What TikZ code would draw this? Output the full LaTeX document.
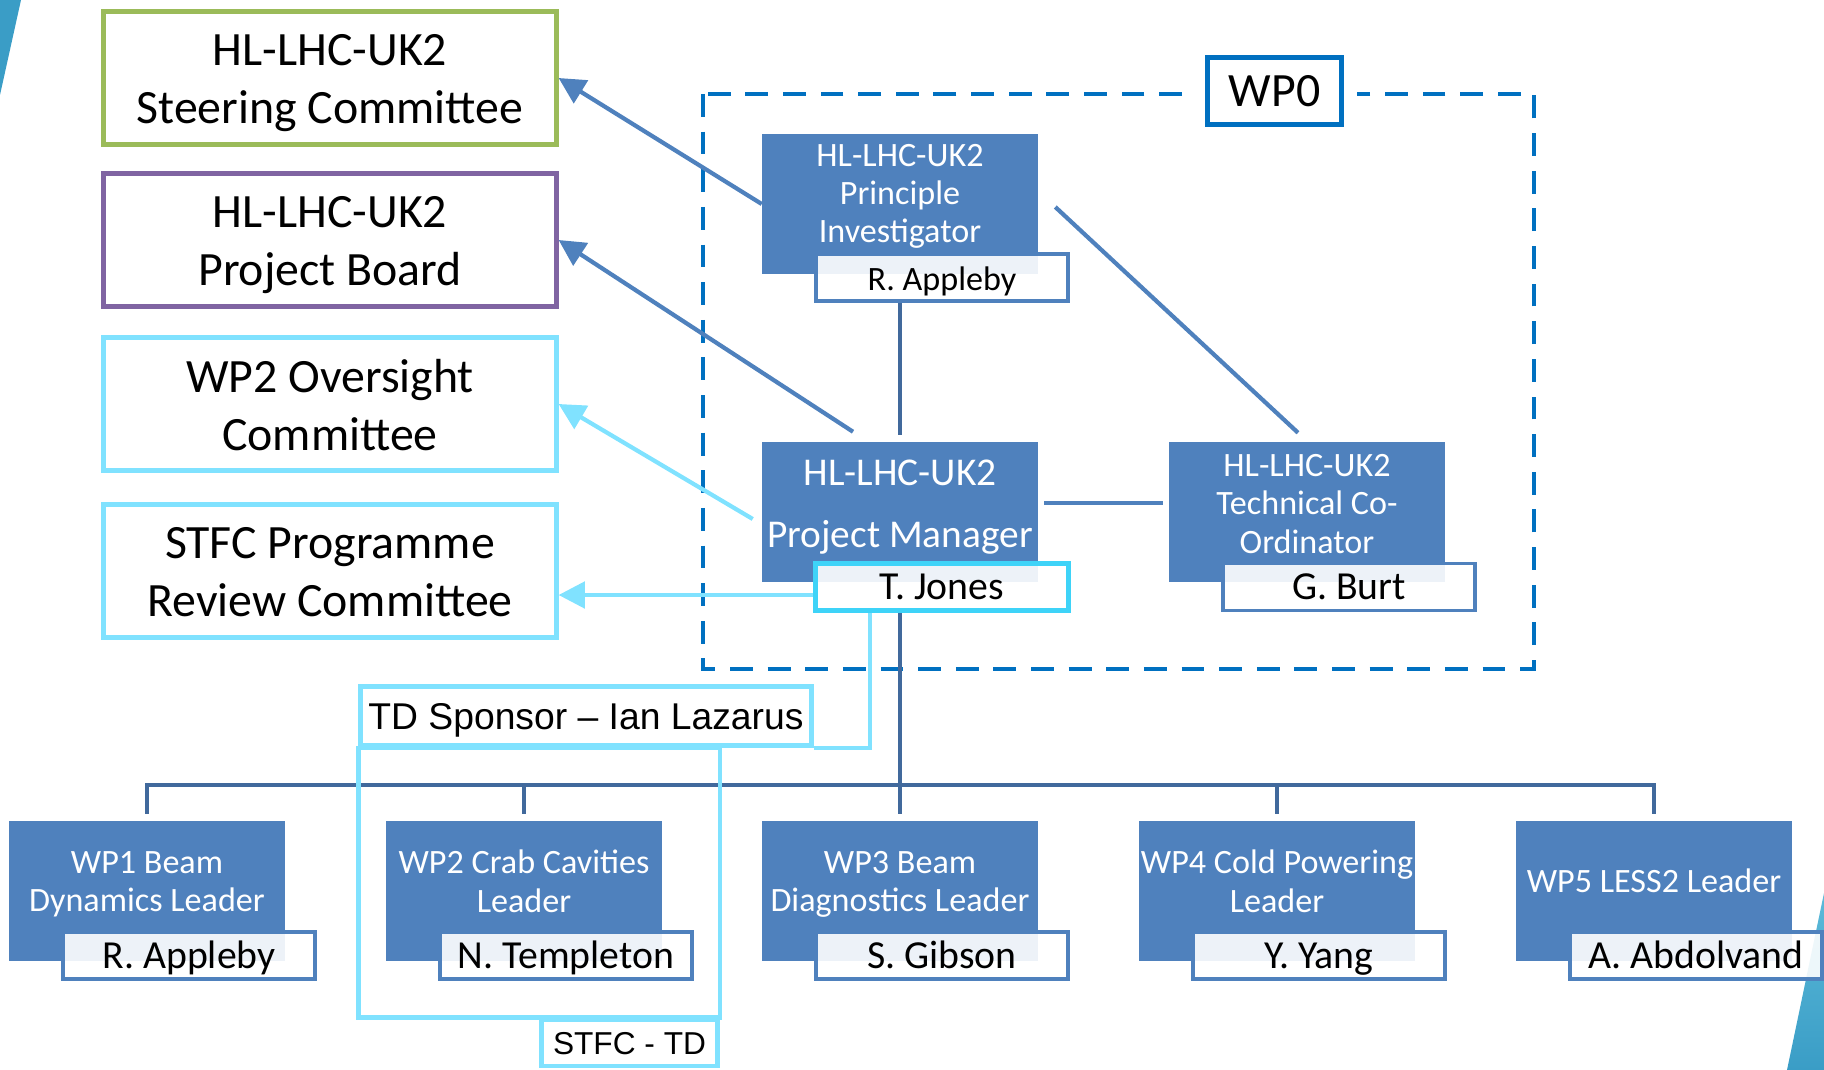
\documentclass[tikz,border=0pt]{standalone}
\usepackage{fontspec}
\setmainfont{Carlito}
\newfontfamily\arialfont{Liberation Sans}
\usetikzlibrary{arrows.meta}

\definecolor{roleblue}{HTML}{4F81BD}
\definecolor{treeblue}{HTML}{41699C}
\definecolor{steergreen}{HTML}{9BBB59}
\definecolor{boardpurple}{HTML}{8064A2}
\definecolor{tdcyan}{HTML}{80E2FF}
\definecolor{jonescyan}{HTML}{3ED3F8}
\definecolor{wpzeroblue}{HTML}{0070C0}
\definecolor{slidetop}{HTML}{5CBAD9}
\definecolor{slidebottom}{HTML}{3A9DC6}

\begin{document}
\begin{tikzpicture}[x=0.01cm,y=-0.01cm,
    vstrut/.style 2 args={execute at begin node={\rule{0pt}{#1}},execute at end node={\rule[-#2]{0pt}{#2}}},
    govbox/.style={draw=#1,line width=1.4pt,fill=white,minimum width=4.52cm,minimum height=1.33cm,inner sep=0pt},
    govtext/.style={align=center,inner sep=0pt,font=\fontsize{13.6}{16.5}\selectfont,vstrut={14.3pt}{3.5pt}},
    rolebox/.style={fill=roleblue,minimum width=2.75cm,minimum height=1.39cm,inner sep=0pt},
    roletext/.style={text=white,align=center,inner sep=0pt,font=\fontsize{9.7}{10.9}\selectfont,vstrut={8.75pt}{2.5pt}},
    namebox/.style={draw=roleblue,line width=1pt,fill=white,fill opacity=0.9,text opacity=1,minimum width=2.52cm,minimum height=0.47cm,inner sep=0pt,font=\fontsize{11.3}{13}\selectfont,vstrut={10.2pt}{2.9pt}},
    tdbox/.style={draw=tdcyan,line width=1.4pt,fill=white,inner sep=0pt,font=\arialfont\fontsize{#1}{12}\selectfont},
    govarrow/.style={draw=#1,line width=1.2pt,-{Triangle[length=7.5pt,width=7.5pt]}},
    roleline/.style={draw=roleblue,line width=1.2pt},
    treeline/.style={draw=treeblue,line width=1.1pt},
    tdline/.style={draw=tdcyan,line width=1.4pt}]
  \useasboundingbox (0,0) rectangle (1824,1070);

  % slide corners
  \fill[slidebottom] (0,0) -- (21,0) -- (0,95) -- cycle;
  \shade[top color=slidetop,bottom color=slidebottom] (1787,1070) -- (1824,893) -- (1824,1070) -- cycle;

  % WP0 frame
  \draw[wpzeroblue,line width=1.3pt,dash pattern=on 6.5pt off 4.2pt] (703,94) rectangle (1534,669);
  \node[draw=wpzeroblue,line width=1.4pt,fill=white,preaction={draw=white,line width=0.3cm},minimum width=1.34cm,minimum height=0.67cm,inner sep=0pt,font=\fontsize{13.6}{16.5}\selectfont] (wp0) at (1274.5,91) {WP0};

  % committees
  \node[govbox=steergreen] (steer) at (330,78) {};
  \node[govtext] (steert) at ([shift={(0,7)}]steer.center) {HL-LHC-UK2\\Steering Committee};
  \node[govbox=boardpurple] (board) at (330,240) {};
  \node[govtext] (boardt) at ([shift={(0,7)}]board.center) {HL-LHC-UK2\\Project Board};
  \node[govbox=tdcyan] (oversight) at (330,404) {};
  \node[govtext] (oversightt) at ([shift={(0,7)}]oversight.center) {WP2 Oversight\\Committee};
  \node[govbox=tdcyan] (prc) at (330,571) {};
  \node[govtext] (prct) at ([shift={(0,7)}]prc.center) {STFC Programme\\Review Committee};

  % WP0 roles
  \node[rolebox] (pi) at (900,204) {};
  \node[roletext] (pit) at ([shift={(0,-6.3)}]pi.center) {HL-LHC-UK2\\Principle\\Investigator};
  \node[namebox,font=\fontsize{9.7}{11}\selectfont,vstrut={8.75pt}{2.5pt}] (pia) at ([shift={(42,73.5)}]pi.center) {R. Appleby};

  \node[rolebox] (pm) at (900,512) {};
  \node[roletext,font=\fontsize{11.2}{13.7}\selectfont,vstrut={10.1pt}{2.9pt}] (pmt) at ([shift={(0,-3)}]pm.center) {HL-LHC-UK2\\[3.8pt]Project Manager};
  \node[namebox,draw=jonescyan,line width=1.4pt] (jones) at ([shift={(42,75)}]pm.center) {T. Jones};

  \node[rolebox] (tc) at (1307,512) {};
  \node[roletext] (tct) at ([shift={(0,-3.8)}]tc.center) {HL-LHC-UK2\\Technical Co-\\Ordinator};
  \node[namebox] (burt) at ([shift={(42,75)}]tc.center) {G. Burt};

  % work package leaders
  \node[rolebox] (wp1) at (147,891) {};
  \node[roletext] (wp1t) at ([shift={(0,-5.4)}]wp1.center) {WP1 Beam\\Dynamics Leader};
  \node[namebox] (wp1n) at ([shift={(42,64.5)}]wp1.center) {R. Appleby};

  \node[rolebox] (wp2) at (524,891) {};
  \node[roletext] (wp2t) at ([shift={(0,-5.4)}]wp2.center) {WP2 Crab Cavities\\Leader};
  \node[namebox] (wp2n) at ([shift={(42,64.5)}]wp2.center) {N. Templeton};

  \node[rolebox] (wp3) at (900,891) {};
  \node[roletext] (wp3t) at ([shift={(0,-5.4)}]wp3.center) {WP3 Beam\\Diagnostics Leader};
  \node[namebox] (wp3n) at ([shift={(42,64.5)}]wp3.center) {S. Gibson};

  \node[rolebox] (wp4) at (1277,891) {};
  \node[roletext] (wp4t) at ([shift={(0,-5.4)}]wp4.center) {WP4 Cold Powering\\Leader};
  \node[namebox] (wp4n) at ([shift={(42,64.5)}]wp4.center) {Y. Yang};

  \node[rolebox] (wp5) at (1654,891) {};
  \node[roletext] (wp5t) at ([shift={(0,-9)}]wp5.center) {WP5 LESS2 Leader};
  \node[namebox] (wp5n) at ([shift={(42,64.5)}]wp5.center) {A. Abdolvand};

  % reporting lines
  \draw[govarrow=roleblue] (pi.west) -- (steer.east);
  \draw[govarrow=roleblue] ([shift={(-47,-10)}]pm.north) -- (board.east);
  \draw[govarrow=tdcyan] ([shift={(-9,7)}]pm.west) -- (oversight.east);
  \draw[govarrow=tdcyan] ([yshift=-0.08cm]jones.west) -- ([yshift=-0.08cm]jones.west -| prc.east);
  \draw[roleline] ([shift={(17,3)}]pi.east) -- ([shift={(-9,-9)}]tc.north);
  \draw[roleline] ([shift={(6,-9)}]pm.east) -- ([shift={(-6,-9)}]tc.west);
  \draw[treeline] (pi.center |- pia.south) -- ([yshift=0.07cm]pm.north);

  % tree to work packages
  \coordinate (bus) at (900,785);
  \draw[treeline] (pm.center |- jones.south) -- ([yshift=0.07cm]wp3.north);
  \draw[treeline] ([yshift=0.07cm]wp1.north) |- (bus) -| ([yshift=0.07cm]wp5.north);
  \draw[treeline] (wp2.north |- bus) -- ([yshift=0.07cm]wp2.north);
  \draw[treeline] (wp4.north |- bus) -- ([yshift=0.07cm]wp4.north);

  % technology department
  \node[tdbox=10.6,vstrut={9.9pt}{2.3pt},minimum width=4.5cm,minimum height=0.59cm] (td) at (586,716) {TD Sponsor – Ian Lazarus};
  \node[tdbox=9,vstrut={6.9pt}{0.5pt},minimum width=1.76cm,minimum height=0.46cm] (stfc) at (629.5,1043) {STFC - TD};
  \draw[tdline] ([xshift=-0.72cm]jones.south) |- (td.south east);
  \draw[tdline] (td.south west) rectangle (stfc.north east);
\end{tikzpicture}
\end{document}
